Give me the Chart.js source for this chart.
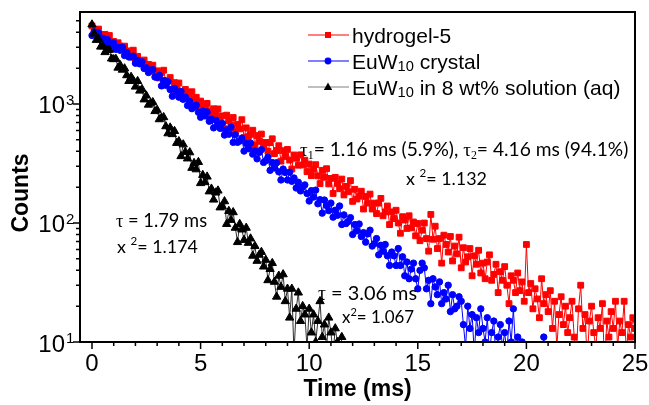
<!DOCTYPE html>
<html>
<head>
<meta charset="utf-8">
<script src="https://cdn.jsdelivr.net/npm/chart.js@4.4.1/dist/chart.umd.min.js"></script>
<style>
  html, body { margin: 0; padding: 0; background: #fff; }
  canvas { display: block; }
</style>
</head>
<body>
<canvas id="decayChart" width="649" height="405"></canvas>
<script>
// channel width of the decay curves (ms)
const timeStep = 0.1;

// hydrogel-5, 0 - 25 ms
const hydrogelCounts = [
  4532, 4078, 4192, 4262, 3842, 3562, 3848, 3582, 3762, 3281,
  3350, 2953, 3271, 3065, 2896, 3063, 2679, 2795, 2643, 2834,
  2350, 2515, 2289, 2290, 2342, 2018, 2153, 2009, 2119, 1853,
  1900, 1655, 1844, 1923, 1536, 1579, 1667, 1329, 1512, 1375,
  1501, 1276, 1109, 1325, 1244, 1114, 1268, 1078, 1138, 957,
  1058, 912, 971, 1012, 876, 789, 912, 827, 909, 746,
  795, 619, 806, 723, 659, 770, 591, 675, 618, 738,
  521, 630, 532, 556, 602, 447, 543, 485, 559, 435,
  475, 400, 473, 510, 383, 406, 446, 331, 405, 362,
  415, 338, 284, 373, 350, 306, 374, 307, 337, 270,
  313, 250, 283, 309, 249, 214, 277, 242, 286, 213,
  237, 177, 242, 215, 194, 234, 172, 203, 183, 227,
  152, 192, 159, 168, 185, 131, 167, 147, 175, 131,
  147, 120, 147, 161, 115, 124, 139, 97, 124, 109,
  128, 100, 82, 113, 106, 90, 115, 91, 102, 78,
  99, 71, 87, 100, 74, 58, 118, 73, 94, 61,
  74, 46, 79, 66, 57, 77, 48, 64, 55, 76,
  42, 62, 47, 52, 61, 36, 53, 45, 59, 38,
  46, 34, 47, 54, 33, 37, 45, 26, 39, 33,
  43, 30, 21, 36, 33, 26, 38, 27, 32, 22,
  66, 26, 31, 19, 28, 23, 16, 34, 21, 25,
  18, 27, 13, 22, 9, 17, 24, 14, 20, 12,
  16, 22, 11, 8, 19, 30, 13, 17, 7, 15,
  20, 12, 9, 16, 13, 21, 6, 15, 11, 18,
  13, 22, 9, 15, 12, 22, 8, 14, 11, 16,
  13
];

// EuW10 crystal, 0 - 21 ms
const crystalCounts = [
  3766, 4040, 3783, 3955, 3498, 3569, 3186, 3483, 3278, 3109,
  3267, 2879, 2985, 2826, 2999, 2552, 2707, 2483, 2482, 2523,
  2202, 2326, 2172, 2257, 1990, 2016, 1838, 1924, 1944, 1684,
  1676, 1745, 1419, 1574, 1437, 1538, 1321, 1163, 1349, 1268,
  1141, 1273, 1095, 1142, 971, 1050, 913, 953, 978, 852,
  773, 871, 794, 857, 716, 745, 630, 730, 672, 624,
  687, 548, 605, 557, 639, 476, 551, 476, 488, 517,
  402, 466, 421, 469, 379, 403, 346, 392, 413, 323,
  334, 357, 277, 322, 290, 321, 269, 230, 284, 266,
  230, 267, 224, 239, 197, 220, 186, 200, 209, 177,
  153, 187, 165, 189, 145, 157, 121, 156, 140, 127,
  147, 112, 128, 116, 139, 97, 117, 99, 103, 111,
  80, 97, 86, 98, 77, 83, 69, 81, 87, 64,
  67, 74, 54, 65, 58, 66, 53, 44, 57, 53,
  44, 61, 44, 52, 36, 47, 34, 41, 46, 34,
  28, 40, 46, 42, 28, 33, 21, 34, 29, 25,
  32, 21, 26, 23, 30, 18, 25, 19, 20, 24,
  22, 14, 9, 20, 13, 17, 8, 16, 12, 19,
  13, 10, 16, 8, 12, 15, 7, 11, 14, 9,
  12, 8, 15, 10, 19, 9, 11, 6, 10, 8,
  7, 9, 5, 8, 6, 9, 7, 8, 11, 6,
  7
];

// EuW10 in 8 wt% solution, 0 - 11.5 ms
const solutionCounts = [
  4650, 3900, 3450, 3515, 3029, 3046, 2724, 2839, 2846, 2406,
  2376, 2390, 2016, 2118, 1938, 1989, 1742, 1557, 1687, 1576,
  1397, 1557, 1293, 1333, 1091, 1176, 985, 1020, 1034, 870,
  891, 743, 767, 774, 649, 566, 633, 557, 592, 470,
  486, 364, 457, 395, 348, 392, 290, 319, 282, 325,
  216, 253, 220, 245, 184, 194, 157, 180, 187, 135,
  138, 152, 98, 126, 106, 123, 91, 69, 98, 88,
  72, 91, 68, 74, 53, 64, 48, 54, 57, 43,
  49, 33, 41, 46, 32, 24, 36, 29, 37, 22,
  28, 16, 28, 8, 19, 26, 15, 20, 17, 9,
  19, 12, 17, 10, 15, 22, 11, 14, 9, 16,
  12, 8, 13, 10, 7, 11
];

const xTickValues = [0, 5, 10, 15, 20, 25];
const yTickValues = [10, 100, 1000];
const yTickExponents = ['1', '2', '3'];
const xMinor = [];
for (let i = 0; i <= 25; i++) xMinor.push(i);
const yMinor = [20, 30, 40, 50, 60, 70, 80, 90, 200, 300, 400, 500, 600, 700, 800, 900, 2000, 3000, 4000, 5000];

const toPoints = counts => counts.map((c, i) => ({ x: Math.round(i * timeStep * 10) / 10, y: c }));

// draw a row of text pieces (sub/superscripts, other fonts), optionally squeezed to a width
function fontFor(r, s) {
  return (r.bold ? 'bold ' : '') + (s * (r.scale || 1)).toFixed(1) + 'px ' + (r.family || 'Lato');
}
function drawRuns(ctx, runs, x, y, size, width) {
  let total = 0;
  runs.forEach(r => { ctx.font = fontFor(r, size); total += ctx.measureText(r.text).width; });
  const s = width ? size * width / total : size;
  let cx = x;
  runs.forEach(r => {
    ctx.font = fontFor(r, s);
    ctx.fillText(r.text, cx, y + (r.dy || 0) * s);
    cx += ctx.measureText(r.text).width;
  });
}

const tau = { text: '\u03C4', family: 'Liberation Serif' };
const sub = t => ({ text: t, family: 'Liberation Serif', scale: 0.62, dy: 0.15 });
const sup = t => ({ text: t, scale: 0.65, dy: -0.42 });

const annotations = [
  { x: 300, y: 156, w: 328, runs: [tau, sub('1'), { text: '= 1.16 ms (5.9%), ' }, tau, sub('2'), { text: '= 4.16 ms (94.1%)' }] },
  { x: 406, y: 185, w: 81, runs: [{ text: 'x ' }, sup('2'), { text: '= 1.132' }] },
  { x: 116, y: 227, w: 91, runs: [tau, { text: ' = 1.79 ms' }] },
  { x: 117, y: 253, w: 81, runs: [{ text: 'x ' }, sup('2'), { text: '= 1.174' }] },
  { x: 318, y: 300, w: 99, runs: [tau, { text: ' = 3.06 ms' }] },
  { x: 342, y: 323, w: 72, runs: [{ text: 'x' }, sup('2'), { text: '= 1.067' }] }
];

const legendRows = [
  { y: 35, line: '#ff0000', fill: '#ff0000', marker: 'rect', runs: [{ text: 'hydrogel-5' }] },
  { y: 61, line: '#0000ff', fill: '#0000ff', marker: 'circle', runs: [{ text: 'EuW' }, { text: '10', scale: 0.7, dy: 0.12 }, { text: ' crystal' }] },
  { y: 87, line: '#808080', fill: '#000000', marker: 'triangle', runs: [{ text: 'EuW' }, { text: '10', scale: 0.7, dy: 0.12 }, { text: ' in 8 wt% solution (aq)' }] }
];

function drawMarker(ctx, kind, x, y) {
  ctx.beginPath();
  if (kind === 'rect') ctx.rect(x - 3, y - 3, 6, 6);
  else if (kind === 'circle') ctx.arc(x, y, 3.4, 0, Math.PI * 2);
  else { ctx.moveTo(x, y - 4.5); ctx.lineTo(x + 4.2, y + 3); ctx.lineTo(x - 4.2, y + 3); ctx.closePath(); }
  ctx.fill();
}

const decorations = {
  id: 'decorations',
  afterDraw(chart) {
    const ctx = chart.ctx;
    const a = chart.chartArea;
    const xs = chart.scales.x;
    const ys = chart.scales.y;
    ctx.save();
    ctx.fillStyle = '#000';
    ctx.strokeStyle = '#000';

    // frame
    ctx.lineWidth = 2;
    ctx.strokeRect(a.left, a.top, a.right - a.left, a.bottom - a.top);

    // ticks
    ctx.lineWidth = 1.5;
    ctx.beginPath();
    xMinor.forEach(v => {
      const px = xs.getPixelForValue(v);
      const len = v % 5 === 0 ? 7 : 4;
      ctx.moveTo(px, a.bottom); ctx.lineTo(px, a.bottom + len);
    });
    yTickValues.concat(yMinor).forEach(v => {
      const py = ys.getPixelForValue(v);
      const len = yTickValues.includes(v) ? 7 : 4;
      ctx.moveTo(a.left, py); ctx.lineTo(a.left - len, py);
    });
    ctx.stroke();

    // tick labels
    ctx.textBaseline = 'alphabetic';
    ctx.font = '24px "Liberation Sans"';
    ctx.textAlign = 'center';
    xTickValues.forEach(v => ctx.fillText(String(v), xs.getPixelForValue(v), a.bottom + 29));
    yTickValues.forEach((v, i) => {
      const py = ys.getPixelForValue(v);
      ctx.textAlign = 'right';
      ctx.font = '24px "Liberation Sans"';
      ctx.fillText('10', 65, py + 9.5);
      ctx.textAlign = 'left';
      ctx.font = '15px "Liberation Sans"';
      ctx.fillText(yTickExponents[i], 66, py + 1);
    });

    // axis titles
    ctx.textAlign = 'center';
    ctx.font = 'bold 23px "Liberation Sans"';
    ctx.fillText('Time (ms)', (a.left + a.right) / 2, 396);
    ctx.save();
    ctx.translate(28, 193);
    ctx.rotate(-Math.PI / 2);
    ctx.fillText('Counts', 0, 0);
    ctx.restore();

    // fit results
    ctx.textAlign = 'left';
    annotations.forEach(n => drawRuns(ctx, n.runs, n.x, n.y, 17, n.w));

    // legend
    legendRows.forEach(row => {
      ctx.strokeStyle = row.line;
      ctx.lineWidth = 1.2;
      ctx.beginPath();
      ctx.moveTo(308, row.y); ctx.lineTo(349, row.y);
      ctx.stroke();
      ctx.fillStyle = row.fill;
      drawMarker(ctx, row.marker, 328, row.y);
      ctx.fillStyle = '#000';
      drawRuns(ctx, row.runs.map(r => Object.assign({ family: '"Liberation Sans"' }, r)), 352, row.y + 7.5, 21);
    });
    ctx.restore();
  }
};

const ctx = document.getElementById('decayChart').getContext('2d');
const chart = new Chart(ctx, {
  type: 'line',
  data: {
    datasets: [{
      label: 'hydrogel-5',
      data: toPoints(hydrogelCounts),
      borderColor: '#ff0000',
      backgroundColor: '#ff0000',
      borderWidth: 1,
      pointStyle: 'rect',
      pointRadius: 4.1,
      pointBorderWidth: 1,
      order: 3
    }, {
      label: 'EuW10 crystal',
      data: toPoints(crystalCounts),
      borderColor: '#0000ff',
      backgroundColor: '#0000ff',
      borderWidth: 1,
      pointStyle: 'circle',
      pointRadius: 3.2,
      pointBorderWidth: 1,
      order: 2
    }, {
      label: 'EuW10 in 8 wt% solution (aq)',
      data: toPoints(solutionCounts),
      borderColor: '#303030',
      backgroundColor: '#000000',
      pointBorderColor: '#000000',
      borderWidth: 1,
      pointStyle: 'triangle',
      pointRadius: 4.8,
      pointBorderWidth: 1,
      order: 1
    }]
  },
  options: {
    responsive: false,
    animation: false,
    devicePixelRatio: 1,
    layout: { padding: { left: 80, right: 14, top: 12, bottom: 63 } },
    plugins: { legend: { display: false }, tooltip: { enabled: false } },
    scales: {
      x: { type: 'linear', min: -0.552, max: 25, display: false },
      y: { type: 'logarithmic', min: 10, max: 5930, display: false }
    }
  },
  plugins: [decorations]
});
</script>
</body>
</html>
